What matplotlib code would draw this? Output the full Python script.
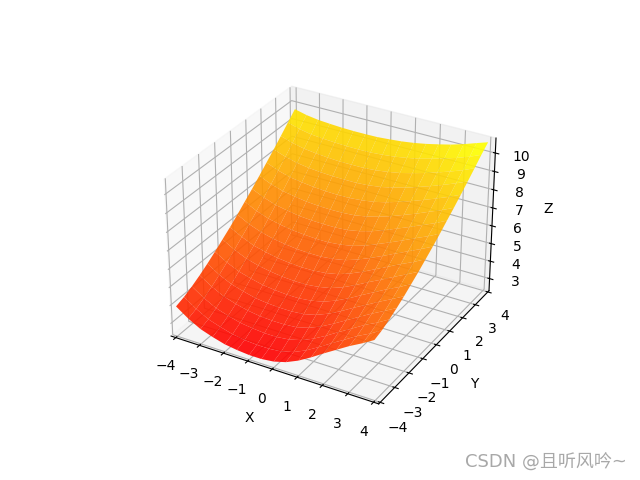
import numpy as np
from matplotlib import pyplot as plt

plt.rcParams['font.family'] = ['DejaVu Sans', 'Noto Sans CJK SC']

x = [-4, -3.5, -3, -2.5, -2, -1.5, -1, -0.5, 0, 0.5, 1, 1.5, 2, 2.5, 3, 3.5, 3.95]
y = [-4, -3.5, -3, -2.5, -2, -1.5, -1, -0.5, 0, 0.5, 1, 1.5, 2, 2.5, 3, 3.5, 4]
x_ticks = [-4, -3, -2, -1, 0, 1, 2, 3, 4]
y_ticks = [-4, -3, -2, -1, 0, 1, 2, 3, 4]
z_ticks = [3, 4, 5, 6, 7, 8, 9, 10]

# z, one row per y
z = [
    [3.98, 3.51, 3.14, 2.91, 2.72, 2.62, 2.56, 2.56, 2.64, 2.83, 3.14, 3.54, 3.98, 4.40, 4.82, 5.19, 5.56],
    [4.14, 3.68, 3.31, 3.09, 2.90, 2.79, 2.74, 2.74, 2.81, 3.00, 3.31, 3.71, 4.14, 4.55, 4.97, 5.32, 5.69],
    [4.36, 3.91, 3.56, 3.34, 3.16, 3.07, 3.01, 3.01, 3.09, 3.27, 3.57, 3.95, 4.37, 4.77, 5.18, 5.53, 5.89],
    [4.62, 4.19, 3.85, 3.63, 3.47, 3.37, 3.33, 3.33, 3.39, 3.57, 3.86, 4.23, 4.63, 5.03, 5.42, 5.78, 6.12],
    [4.91, 4.49, 4.17, 3.97, 3.80, 3.72, 3.68, 3.68, 3.74, 3.91, 4.19, 4.54, 4.94, 5.31, 5.69, 6.04, 6.38],
    [5.23, 4.83, 4.52, 4.33, 4.17, 4.09, 4.04, 4.04, 4.12, 4.27, 4.54, 4.87, 5.25, 5.62, 5.99, 6.32, 6.67],
    [5.57, 5.19, 4.89, 4.70, 4.57, 4.48, 4.44, 4.44, 4.52, 4.66, 4.91, 5.24, 5.60, 5.94, 6.30, 6.64, 6.96],
    [5.91, 5.56, 5.27, 5.10, 4.97, 4.89, 4.85, 4.86, 4.93, 5.07, 5.31, 5.61, 5.95, 6.29, 6.63, 6.95, 7.28],
    [6.28, 5.93, 5.68, 5.51, 5.40, 5.32, 5.29, 5.29, 5.36, 5.49, 5.72, 6.01, 6.32, 6.65, 6.97, 7.29, 7.60],
    [6.67, 6.34, 6.10, 5.95, 5.84, 5.78, 5.74, 5.74, 5.81, 5.93, 6.14, 6.42, 6.71, 7.01, 7.33, 7.63, 7.94],
    [7.06, 6.76, 6.53, 6.40, 6.29, 6.24, 6.22, 6.22, 6.27, 6.40, 6.59, 6.84, 7.12, 7.40, 7.70, 7.99, 8.30],
    [7.47, 7.18, 6.98, 6.86, 6.76, 6.71, 6.69, 6.70, 6.75, 6.87, 7.05, 7.27, 7.53, 7.79, 8.08, 8.36, 8.65],
    [7.89, 7.62, 7.43, 7.33, 7.25, 7.20, 7.18, 7.19, 7.25, 7.35, 7.51, 7.72, 7.95, 8.20, 8.46, 8.74, 9.02],
    [8.31, 8.08, 7.91, 7.81, 7.75, 7.71, 7.70, 7.70, 7.75, 7.84, 7.99, 8.17, 8.39, 8.62, 8.87, 9.14, 9.40],
    [8.75, 8.54, 8.39, 8.31, 8.25, 8.21, 8.21, 8.21, 8.26, 8.35, 8.47, 8.64, 8.83, 9.04, 9.27, 9.52, 9.79],
    [9.20, 9.01, 8.88, 8.82, 8.78, 8.75, 8.74, 8.75, 8.80, 8.87, 8.98, 9.11, 9.29, 9.48, 9.69, 9.93, 10.19],
    [9.65, 9.49, 9.39, 9.34, 9.30, 9.28, 9.28, 9.29, 9.34, 9.40, 9.49, 9.61, 9.76, 9.92, 10.12, 10.35, 10.55],
]

X, Y = np.meshgrid(x, y)
Z = np.array(z)

fig = plt.figure()
ax = fig.add_subplot(111, projection='3d')
ax.plot_surface(X, Y, Z, cmap='autumn', alpha=0.9, rstride=1, cstride=1)
ax.set_xlim(-4.2, 4.2)
ax.set_ylim(-4.1, 4.1)
ax.set_zlim(2.3, 10.8)
ax.set_xticks(x_ticks)
ax.set_yticks(y_ticks)
ax.set_zticks(z_ticks)
ax.set_xlabel('X')
ax.set_ylabel('Y')
ax.set_zlabel('Z')
fig.text(0.98, 0.037, 'CSDN @且听风吟~', color='#a8a8a8', fontsize=13, ha='right', va='center')
plt.savefig('out.png')
